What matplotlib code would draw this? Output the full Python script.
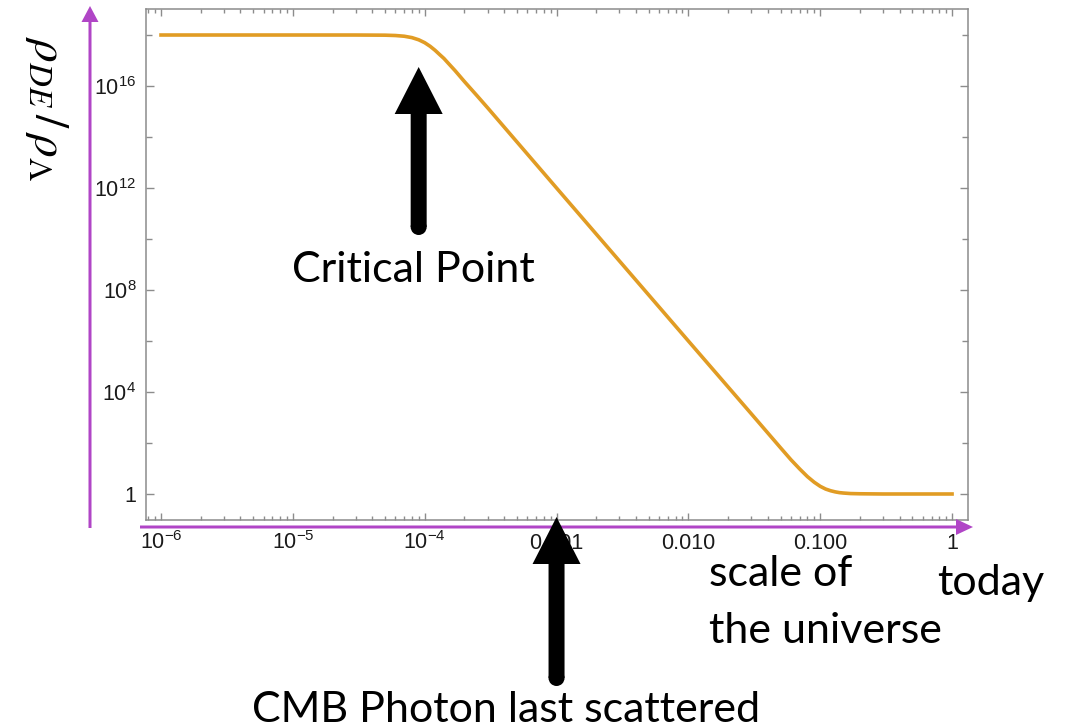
import numpy as np
import matplotlib.pyplot as plt
from matplotlib.patches import FancyArrow, Circle
from matplotlib.ticker import FixedLocator, LogLocator, NullFormatter

plt.rcParams['font.family'] = 'Liberation Sans'
plt.rcParams['mathtext.fontset'] = 'custom'
plt.rcParams['mathtext.rm'] = 'Liberation Sans'
plt.rcParams['mathtext.it'] = 'Liberation Sans:italic'

# dark energy density relative to the cosmological constant vs scale factor
scale_factor = [1e-6, 1e-5, 3e-5, 5e-5, 6e-5, 7e-5, 8e-5, 9e-5, 1e-4, 1.1e-4, 1.2e-4,
                1.3e-4, 1.4e-4, 1.5e-4, 1.7e-4, 2e-4, 2.5e-4, 3e-4, 1e-3, 1e-2, 3e-2,
                5e-2, 6e-2, 7e-2, 8e-2, 9e-2, 0.1, 0.11, 0.12, 0.13, 0.14, 0.15, 0.17,
                0.2, 0.3, 1.0]
rho_ratio = [1.0e18, 1.0e18, 9.99e17, 9.85e17, 9.55e17, 8.95e17, 7.9e17, 6.5e17, 5.0e17,
             3.6e17, 2.5e17, 1.7e17, 1.2e17, 8.1e16, 4.0e16, 1.5e16, 4.1e15, 1.4e15,
             1.0e12, 1.0e6, 1.4e3, 65, 22, 9.5, 4.8, 2.9, 2.0, 1.56, 1.34, 1.21, 1.13,
             1.09, 1.04, 1.02, 1.0, 1.0]

x_ticks = [1e-6, 1e-5, 1e-4, 1e-3, 1e-2, 1e-1, 1]
x_labels = ['$10^{-6}$', '$10^{-5}$', '$10^{-4}$', '0.001', '0.010', '0.100', '1']
y_ticks = [1, 1e4, 1e8, 1e12, 1e16]
y_labels = ['1', '$10^{4}$', '$10^{8}$', '$10^{12}$', '$10^{16}$']
y_minor = [1e2, 1e6, 1e10, 1e14, 1e18]

a_critical = 9e-5
a_cmb = 1e-3

W, H = 1071, 728
fig = plt.figure(figsize=(W / 100, H / 100), dpi=100)
ax = fig.add_axes([146 / W, 1 - 520 / H, 822 / W, 511 / H])

ax.plot(scale_factor, rho_ratio, color='#e19c24', lw=2.6)
ax.set_xscale('log')
ax.set_yscale('log')
ax.set_xlim(10 ** -6.114, 10 ** 0.121)
ax.set_ylim(10 ** -1.02, 10 ** 19.02)

ax.xaxis.set_major_locator(FixedLocator(x_ticks))
ax.set_xticklabels(x_labels)
ax.xaxis.set_minor_locator(LogLocator(base=10, subs=range(2, 10), numticks=30))
ax.xaxis.set_minor_formatter(NullFormatter())
ax.yaxis.set_major_locator(FixedLocator(y_ticks))
ax.set_yticklabels(y_labels)
ax.yaxis.set_minor_locator(FixedLocator(y_minor))
ax.yaxis.set_minor_formatter(NullFormatter())

frame = '#8c8c8c'
for s in ax.spines.values():
    s.set_color(frame)
    s.set_linewidth(1.1)
ax.tick_params(which='both', direction='in', top=True, right=True, color=frame,
               width=1.0, labelcolor='#1a1a1a', labelsize=15.5)
ax.tick_params(axis='x', which='major', length=5, pad=21)
ax.tick_params(axis='x', which='minor', length=3)
ax.tick_params(axis='y', which='major', length=6, pad=7)
ax.tick_params(axis='y', which='minor', length=4.5)
for t in ax.get_xticklabels():
    t.set_verticalalignment('baseline')

# purple axis arrows
inch = fig.dpi_scale_trans
purple = '#b045c6'
fig.add_artist(FancyArrow(0.90, (H - 528) / 100, 0, 5.23 - 0.01, width=0.03,
                          head_width=0.17, head_length=0.16, length_includes_head=True,
                          color=purple, lw=0, transform=inch))
fig.add_artist(FancyArrow(1.40, (H - 527) / 100, 8.33, 0, width=0.03,
                          head_width=0.16, head_length=0.17, length_includes_head=True,
                          color=purple, lw=0, transform=inch))


def black_arrow(a, tip_px, tail_px):
    x_in = inch.inverted().transform(ax.transData.transform((a, 1)))[0]
    y_tip = (H - tip_px) / 100
    y_tail = (H - tail_px) / 100
    fig.add_artist(FancyArrow(x_in, y_tail, 0, y_tip - y_tail, width=0.16,
                              head_width=0.48, head_length=0.47,
                              length_includes_head=True, color='black', lw=0,
                              transform=inch))
    fig.add_artist(Circle((x_in, y_tail), 0.08, color='black', lw=0, transform=inch))


black_arrow(a_critical, 67, 227)
black_arrow(a_cmb, 517, 678)

txt = dict(family='Lato', fontsize=31, color='black')
fig.text(413 / W, 1 - 282 / H, 'Critical Point', ha='center', va='baseline', **txt)
fig.text(506 / W, 1 - 722 / H, 'CMB Photon last scattered', ha='center', va='baseline', **txt)
fig.text(709 / W, 1 - 586 / H, 'scale of', ha='left', va='baseline', **txt)
fig.text(709 / W, 1 - 643 / H, 'the universe', ha='left', va='baseline', **txt)
fig.text(937 / W, 1 - 595 / H, 'today', ha='left', va='baseline', **txt)

fig.text(46 / W, 1 - 108 / H, r'$\rho_{DE}\,/\,\rho_{\Lambda}$', rotation=-90,
         ha='center', va='center', fontsize=34, math_fontfamily='stix')

fig.savefig('out.png', dpi=100)
